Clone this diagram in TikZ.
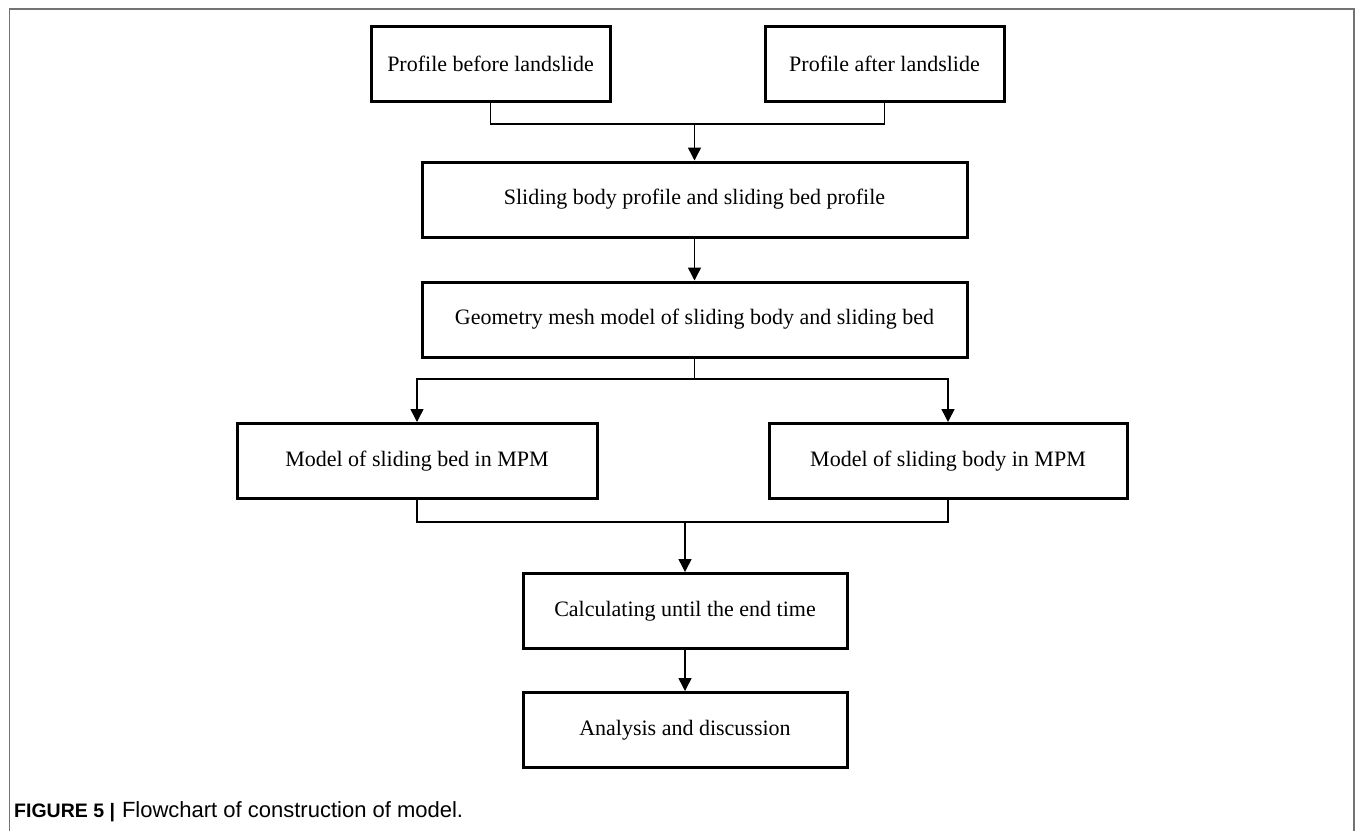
\documentclass[tikz,border=0pt]{standalone}
\usepackage{fontspec}
\setmainfont{Liberation Serif}
\newfontfamily\capfont{Liberation Sans}
\usetikzlibrary{arrows.meta}
\begin{document}
\begin{tikzpicture}[x=1pt,y=-1pt,
  flowbox/.style={draw=black,line width=3pt,rectangle,minimum height=75pt,inner sep=0pt,font=\fontsize{22}{26}\selectfont},
  conn/.style={draw=black,line width=1.5pt},
  arr/.style={conn,-{Triangle[length=13pt,width=13pt]}}]
\useasboundingbox (0,0) rectangle (1357,831);
\fill[white] (0,0) rectangle (1357,831);
\draw[line width=1.5pt,draw=black!55] (9.5,831) -- (9.5,9) -- (1354,9) -- (1354,831);
\node[flowbox,minimum width=239pt] (b1) at (490.5,63.5) {Profile before landslide};
\node[flowbox,minimum width=239pt] (b2) at (884.5,63.5) {Profile after landslide};
\node[flowbox,minimum width=545pt] (b3) at (694.5,199.5) {Sliding body profile and sliding bed profile};
\node[flowbox,minimum width=545pt] (b4) at (694.5,319.5) {Geometry mesh model of sliding body and sliding bed};
\node[flowbox,minimum width=360pt] (b5) at (417,461) {Model of sliding bed in MPM};
\node[flowbox,minimum width=358pt] (b6) at (948,461) {Model of sliding body in MPM};
\node[flowbox,minimum width=324pt] (b7) at (685,611) {Calculating until the end time};
\node[flowbox,minimum width=324pt] (b8) at (685,730) {Analysis and discussion};
\coordinate (j1) at (694.5,124);
\coordinate (j2) at (694.5,379);
\coordinate (j3) at (685,522);
\draw[conn] (b1.south) |- (j1);
\draw[conn] (b2.south) |- (j1);
\draw[arr] (j1) -- (b3.north);
\draw[arr] (b3.south) -- (b4.north);
\draw[conn] (b4.south) -- (j2);
\draw[arr] (j2) -| (b5.north);
\draw[arr] (j2) -| (b6.north);
\draw[conn] (b5.south) |- (j3);
\draw[conn] (b6.south) |- (j3);
\draw[arr] (j3) -- (b7.north);
\draw[arr] (b7.south) -- (b8.north);
\node[anchor=west,inner sep=0pt,font=\capfont] (cap) at (14,812) {{\fontsize{19.5}{22}\selectfont\bfseries FIGURE 5 |}\hspace{7pt}{\fontsize{22}{24}\selectfont Flowchart of construction of model.}};
\end{tikzpicture}
\end{document}
